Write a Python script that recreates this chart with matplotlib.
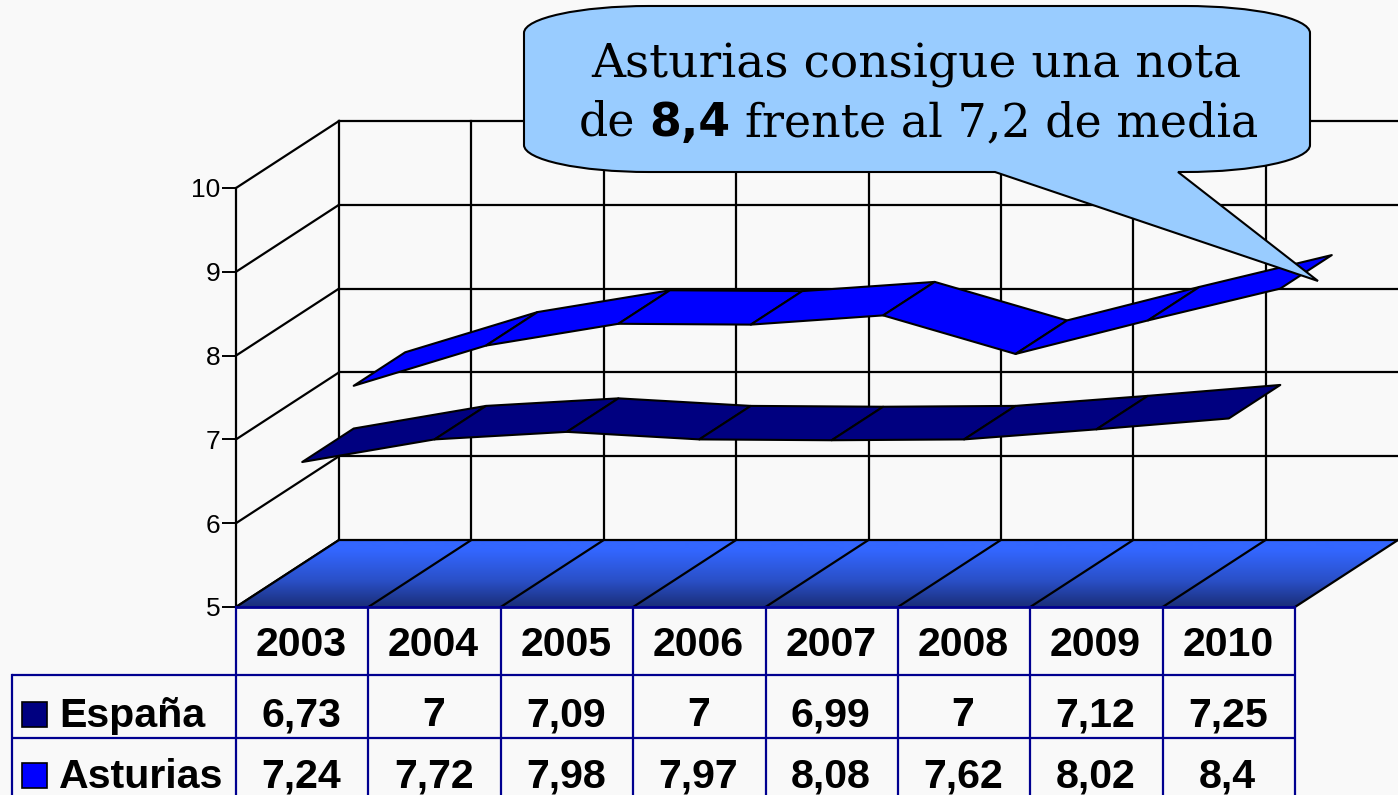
import matplotlib
matplotlib.use("Agg")
import matplotlib.pyplot as plt
import numpy as np
from matplotlib.colors import LinearSegmentedColormap
from matplotlib.patches import Polygon, PathPatch, Rectangle
from matplotlib.path import Path

years = ["2003", "2004", "2005", "2006", "2007", "2008", "2009", "2010"]
espana = [6.73, 7, 7.09, 7, 6.99, 7, 7.12, 7.25]
asturias = [7.24, 7.72, 7.98, 7.97, 8.08, 7.62, 8.02, 8.4]
espana_labels = ["6,73", "7", "7,09", "7", "6,99", "7", "7,12", "7,25"]
asturias_labels = ["7,24", "7,72", "7,98", "7,97", "8,08", "7,62", "8,02", "8,4"]
y_ticks = [5, 6, 7, 8, 9, 10]

W, H = 1398, 795
BG = "#f9f9f9"
L, R, B, T = 236, 1295, 607, 188
DPX, DPY = 103, 67

fig = plt.figure(figsize=(W / 100, H / 100), dpi=100, facecolor=BG)
ax = fig.add_axes([L / W, 1 - B / H, (R - L) / W, (B - T) / H])
ax.set_xlim(0, len(years))
ax.set_ylim(5, 10)
ax.patch.set_visible(False)
for s in ("top", "right", "bottom"):
    ax.spines[s].set_visible(False)
ax.spines["left"].set_linewidth(1.6)
ax.set_xticks([])
ax.set_yticks(y_ticks)
ax.tick_params(axis="y", length=10, width=1.4, pad=1, labelsize=19)
for t in ax.get_yticklabels():
    t.set_family("Liberation Sans")

dx = DPX * len(years) / (R - L)
dy = DPY * 5 / (B - T)
xmax = len(years)
LW = 1.6

# walls
for v in y_ticks:
    ax.plot([0, dx], [v, v + dy], color="k", lw=LW, clip_on=False, zorder=1)
    if v > 5:
        ax.plot([dx, xmax + dx], [v + dy, v + dy], color="k", lw=LW, clip_on=False, zorder=1)
for i in range(len(years)):
    ax.plot([i + dx, i + dx], [5 + dy, 10 + dy], color="k", lw=LW, clip_on=False, zorder=1)

# floor with gradient
floor = Polygon([(0, 5), (dx, 5 + dy), (xmax + dx, 5 + dy), (xmax, 5)], closed=True,
                facecolor="none", edgecolor="none", clip_on=False, transform=ax.transData)
ax.add_patch(floor)
grad = np.linspace(0, 1, 256).reshape(-1, 1)
cmap = LinearSegmentedColormap.from_list(
    "floor", [(0, "#3366ff"), (0.15, "#3366ff"), (0.6, "#2a50c8"), (1, "#1a2e78")])
im = ax.imshow(grad, extent=(0, xmax + dx, 5, 5 + dy), origin="upper", cmap=cmap, aspect="auto",
               zorder=1.5)
im.set_clip_box(fig.bbox)
im.set_clip_path(floor)
ax.set_xlim(0, len(years))
ax.set_ylim(5, 10)
for i in range(len(years) + 1):
    ax.plot([i, i + dx], [5, 5 + dy], color="k", lw=LW, clip_on=False, zorder=2)
ax.plot([dx, xmax + dx], [5 + dy, 5 + dy], color="k", lw=LW, clip_on=False, zorder=2)


def ribbon(values, f0, f1, color, z):
    xs = np.arange(len(values)) + 0.5
    vals = np.asarray(values, dtype=float)
    for i in range(len(vals) - 1):
        pts = [
            (xs[i] + f0 * dx, vals[i] + f0 * dy),
            (xs[i + 1] + f0 * dx, vals[i + 1] + f0 * dy),
            (xs[i + 1] + f1 * dx, vals[i + 1] + f1 * dy),
            (xs[i] + f1 * dx, vals[i] + f1 * dy),
        ]
        ax.add_patch(Polygon(pts, closed=True, facecolor=color, edgecolor="k", lw=1.5,
                             joinstyle="round", clip_on=False, zorder=z + i * 0.01))


ribbon(espana, 0, 0.5, "#000080", 3)
ribbon(asturias, 0.5, 1, "#0000ff", 4)

# pixel overlay: table and callout
px = fig.add_axes([0, 0, 1, 1])
px.set_xlim(0, W)
px.set_ylim(H, 0)
px.axis("off")
px.patch.set_visible(False)

TAB = "#000090"
TF = "Liberation Sans"
cols = np.linspace(L, R, len(years) + 1)
rows = [607, 674.5, 738]
for c in cols:
    px.plot([c, c], [rows[0], H + 3], color=TAB, lw=1.6, zorder=2)
px.plot([L, R], [rows[0], rows[0]], color=TAB, lw=2.0, zorder=2, solid_capstyle="butt")
px.plot([12, R], [rows[1], rows[1]], color=TAB, lw=1.6, zorder=2, solid_capstyle="butt")
px.plot([12, R], [rows[2], rows[2]], color=TAB, lw=1.6, zorder=2, solid_capstyle="butt")
px.plot([12, 12], [rows[1], H + 3], color=TAB, lw=1.6, zorder=2)

tfs = 29.6
for i, (yy, a, b) in enumerate(zip(years, espana_labels, asturias_labels)):
    cx = (cols[i] + cols[i + 1]) / 2 - 1
    px.text(cx, 655.5, yy, ha="center", va="baseline", family=TF, weight="bold", fontsize=tfs, color="k")
    px.text(cx, 726.5, a, ha="center", va="baseline", family=TF, weight="bold", fontsize=tfs, color="k")
    px.text(cx, 788, b, ha="center", va="baseline", family=TF, weight="bold", fontsize=tfs, color="k")

px.add_patch(Rectangle((21.7, 702), 25, 24.7, facecolor="#000080", edgecolor="k", lw=1.2))
px.add_patch(Rectangle((21.7, 763), 25, 24.5, facecolor="#0000ff", edgecolor="k", lw=1.2))
px.text(59, 727, "España", ha="left", va="baseline", family=TF, weight="bold", fontsize=tfs)
px.text(59, 788, "Asturias", ha="left", va="baseline", family=TF, weight="bold", fontsize=tfs)

# callout
x0, x1, y0, y1 = 524, 1310, 6, 172
rx, ry = 125, 27
k = 0.5523
verts = [
    (x0, y0 + ry),
    (x0, y0 + ry - k * ry), (x0 + rx - k * rx, y0), (x0 + rx, y0),
    (x1 - rx, y0),
    (x1 - rx + k * rx, y0), (x1, y0 + ry - k * ry), (x1, y0 + ry),
    (x1, y1 - ry),
    (x1, y1 - ry + k * ry), (x1 - rx + k * rx, y1), (x1 - rx, y1),
    (1178, y1), (1318, 281), (995, y1),
    (x0 + rx, y1),
    (x0 + rx - k * rx, y1), (x0, y1 - ry + k * ry), (x0, y1 - ry),
    (x0, y0 + ry),
]
codes = [Path.MOVETO, Path.CURVE4, Path.CURVE4, Path.CURVE4, Path.LINETO,
         Path.CURVE4, Path.CURVE4, Path.CURVE4, Path.LINETO,
         Path.CURVE4, Path.CURVE4, Path.CURVE4,
         Path.LINETO, Path.LINETO, Path.LINETO, Path.LINETO,
         Path.CURVE4, Path.CURVE4, Path.CURVE4, Path.CLOSEPOLY]
px.add_patch(PathPatch(Path(verts, codes), facecolor="#99ccff", edgecolor="k", lw=1.5, zorder=5))

cfs = 33.9
cfs2 = 33
px.text(916.5, 78, "Asturias consigue una nota", ha="center", va="baseline",
        family="DejaVu Serif", fontsize=cfs, zorder=6)
px.text(579, 136, "de", ha="left", va="baseline", family="DejaVu Serif", fontsize=cfs2, zorder=6)
px.text(649, 136, "8,4", ha="left", va="baseline", family="DejaVu Sans", weight="bold", fontsize=cfs2, zorder=6)
px.text(745, 136, "frente al 7,2 de media", ha="left", va="baseline", family="DejaVu Serif",
        fontsize=cfs2, zorder=6)

fig.savefig("out.png", dpi=100, facecolor=BG)
